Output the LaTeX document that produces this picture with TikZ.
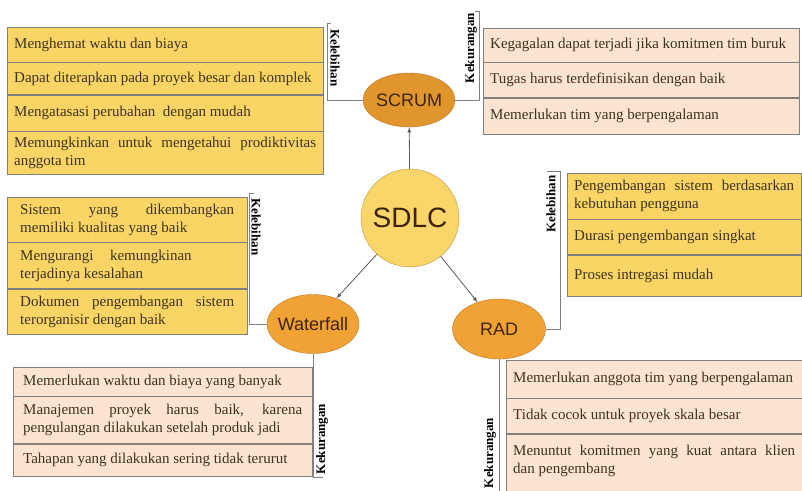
\documentclass[tikz,border=0pt]{standalone}
\usepackage{fontspec}
\setmainfont{Liberation Serif}
\setsansfont{Liberation Sans}
\usetikzlibrary{positioning,shapes.geometric}
\definecolor{prosfill}{RGB}{250,213,102}
\definecolor{consfill}{RGB}{252,228,208}
\definecolor{edge}{RGB}{128,128,128}
\definecolor{scrumfill}{RGB}{224,150,44}
\definecolor{modelfill}{RGB}{240,162,52}
\definecolor{modeledge}{RGB}{185,120,40}
\definecolor{sdlcfill}{RGB}{250,214,106}
\definecolor{sdlcedge}{RGB}{190,150,60}
\definecolor{ink}{RGB}{60,50,30}
\definecolor{modelink}{RGB}{60,35,10}
\tikzset{
  row/.style={draw=edge, text=ink, inner xsep=7pt, inner ysep=0pt, align=justify,
    font=\fontsize{15}{18}\selectfont},
  pros/.style={row, fill=prosfill, text width=#1},
  cons/.style={row, fill=consfill, text width=#1},
  model/.style={ellipse, draw=modeledge, fill=modelfill, inner sep=0pt, text=modelink,
    font=\sffamily\fontsize{18}{20}\selectfont},
  tag/.style={font=\bfseries\fontsize{13}{13}\selectfont, inner sep=0pt},
  bracket/.style={draw=edge, line width=0.9pt},
}
\begin{document}
\begin{tikzpicture}[x=1pt,y=-1pt]
    \useasboundingbox (0,0) rectangle (802,490);
    %% models
    \node[circle, draw=sdlcedge, fill=sdlcfill, minimum size=98pt, text=modelink,
      font=\sffamily\fontsize{28}{30}\selectfont] (sdlc) at (410,218) {SDLC};
    \node[model, fill=scrumfill, minimum width=92pt, minimum height=54pt] (scrum) at (409,100) {\makebox[0pt]{SCRUM}};
    \node[model, minimum width=92pt, minimum height=59pt] (wf) at (313,324) {\makebox[0pt]{Waterfall}};
    \node[model, minimum width=93pt, minimum height=60pt] (rad) at (499,329) {\makebox[0pt]{RAD}};
    \draw[-latex, edge!70!black, thick] (sdlc) -- (scrum);
    \draw[-latex, edge!70!black, thick] (sdlc) -- (wf);
    \draw[-latex, edge!70!black, thick] (sdlc) -- (rad);

    %% SCRUM: kelebihan
    \node[pros=302pt, minimum height=35pt, anchor=north west] (sk1) at (7,27) {Menghemat waktu dan biaya};
    \node[pros=302pt, minimum height=32pt, below=0pt of sk1] (sk2) {Dapat diterapkan pada proyek besar dan komplek};
    \node[pros=302pt, minimum height=36pt, below=0pt of sk2] (sk3) {Mengatasasi perubahan\ \ dengan mudah};
    \node[pros=302pt, minimum height=43pt, below=0pt of sk3] (sk4) {Memungkinkan untuk mengetahui prodiktivitas\linebreak anggota tim};
    \coordinate (bsk) at (327,23);
    \draw[bracket] (scrum.west) -| (bsk) -- ++(4,0);
    \node[tag, rotate=-90] (tsk) at (335,58) {Kelebihan};
    %% SCRUM: kekurangan
    \node[cons=302pt, minimum height=34pt, anchor=north west] (sr1) at (483,28) {Kegagalan dapat terjadi jika komitmen tim buruk};
    \node[cons=302pt, minimum height=35pt, below=0pt of sr1] (sr2) {Tugas harus terdefinisikan dengan baik};
    \node[cons=302pt, minimum height=36pt, below=0pt of sr2] (sr3) {Memerlukan tim yang berpengalaman};
    \coordinate (bsr) at (479,11);
    \draw[bracket] (scrum.east) -| (bsr) -- ++(-4,0);
    \node[tag, rotate=90] (tsr) at (471,48) {Kekurangan};

    %% Waterfall: kelebihan
    \node[pros=214pt, inner xsep=13pt, minimum height=45pt, anchor=north west] (wk1) at (7,197) {\rightskip=17pt Sistem yang dikembangkan\linebreak memiliki kualitas yang baik};
    \node[pros=214pt, inner xsep=13pt, minimum height=46pt, below=0pt of wk1] (wk2) {Mengurangi\hspace{1.1em}kemungkinan\\terjadinya kesalahan};
    \node[pros=214pt, inner xsep=13pt, minimum height=45pt, below=0pt of wk2] (wk3) {\rightskip=14pt Dokumen pengembangan sistem\linebreak terorganisir dengan baik};
    \coordinate (bwk) at (249,193);
    \draw[bracket] (wf.west) -| (bwk) -- ++(5,0);
    \node[tag, rotate=-90] (twk) at (256,227) {Kelebihan};
    %% Waterfall: kekurangan
    \node[cons=279pt, inner xsep=10pt, minimum height=29pt, anchor=north west] (wr1) at (13,367) {Memerlukan waktu dan biaya yang banyak};
    \node[cons=279pt, inner xsep=10pt, minimum height=47pt, below=0pt of wr1] (wr2) {Manajemen proyek harus baik, karena\linebreak pengulangan dilakukan setelah produk jadi};
    \node[cons=279pt, inner xsep=10pt, minimum height=32pt, below=0pt of wr2] (wr3) {Tahapan yang dilakukan sering tidak terurut};
    \coordinate (bwr) at (323,477);
    \draw[bracket] (wf.south) |- (bwr);
    \node[tag, rotate=90] (twr) at (322,439) {Kekurangan};

    %% RAD: kelebihan
    \node[pros=220pt, minimum height=46pt, anchor=north west] (rk1) at (567,173) {Pengembangan sistem berdasarkan\linebreak kebutuhan pengguna};
    \node[pros=220pt, minimum height=35pt, below=0pt of rk1] (rk2) {Durasi pengembangan singkat};
    \node[pros=220pt, minimum height=41pt, below=0pt of rk2] (rk3) {Proses intregasi mudah};
    \coordinate (brk) at (560,171);
    \draw[bracket] (rad.east) -| (brk) -- ++(-13,0);
    \node[tag, rotate=90] (trk) at (551,204) {Kelebihan};
    %% RAD: kekurangan
    \node[cons=282pt, minimum height=38pt, anchor=north west] (rr1) at (506,360) {Memerlukan anggota tim yang berpengalaman};
    \node[cons=282pt, minimum height=35pt, below=0pt of rr1] (rr2) {Tidak cocok untuk proyek skala besar};
    \node[cons=282pt, minimum height=62pt, below=0pt of rr2] (rr3) {Menuntut komitmen yang kuat antara klien\linebreak dan pengembang\par\vspace{8pt}};
    \coordinate (brr) at (499,495);
    \draw[bracket] (rad.south) -- (brr);
    \node[tag, rotate=90] (trr) at (490,453) {Kekurangan};
\end{tikzpicture}
\end{document}
